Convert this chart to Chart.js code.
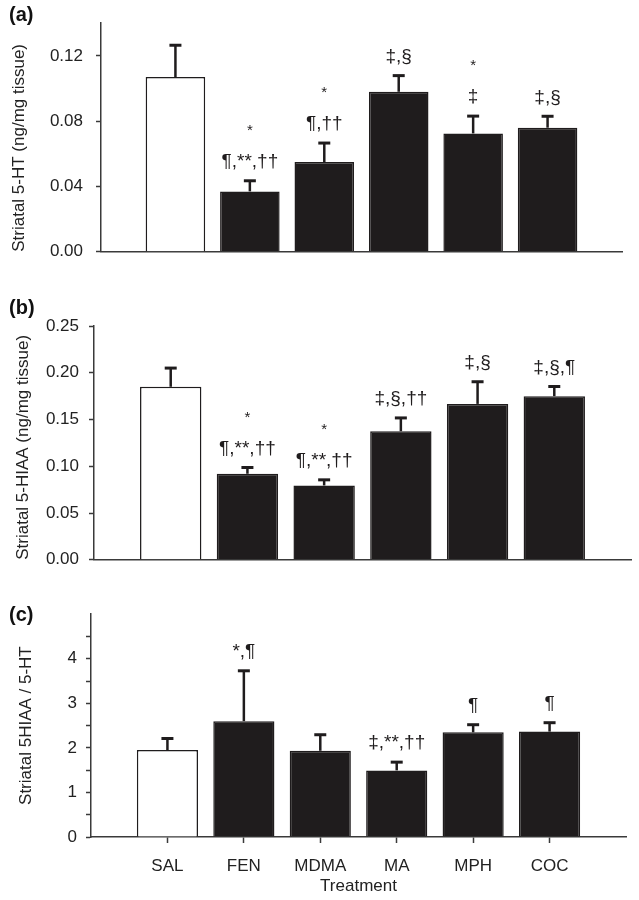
<!DOCTYPE html>
<html>
<head>
<meta charset="utf-8">
<script src="https://cdn.jsdelivr.net/npm/chart.js@4.4.1/dist/chart.umd.min.js"></script>
<style>
  body { margin: 0; background: #fff; }
  #wrap { position: relative; width: 639px; height: 900px; overflow: hidden; }
  canvas { position: absolute; left: 0; }
</style>
</head>
<body>
<div id="wrap">
  <canvas id="chart-a" width="639" height="275" style="top:0px"></canvas>
  <canvas id="chart-b" width="639" height="290" style="top:290px"></canvas>
  <canvas id="chart-c" width="639" height="305" style="top:595px"></canvas>
</div>
<script>
const categories = ["SAL", "FEN", "MDMA", "MA", "MPH", "COC"]

// (a) striatal 5-HT, ng/mg tissue
const serotoninMean = [0.107, 0.037, 0.055, 0.098, 0.0725, 0.076]
const serotoninSem = [0.0195, 0.0065, 0.0116, 0.0099, 0.0106, 0.0070]
const serotoninMarks = ["", "¶,**,††", "¶,††", "‡,§", "‡", "‡,§"]
const serotoninStars = ["", "*", "*", "", "*", ""]
const serotoninTicks = [0, 0.04, 0.08, 0.12]

// (b) striatal 5-HIAA, ng/mg tissue
const hiaaMean = [0.185, 0.092, 0.0795, 0.1375, 0.1667, 0.175]
const hiaaSem = [0.020, 0.0067, 0.0060, 0.0142, 0.0237, 0.0103]
const hiaaMarks = ["", "¶,**,††", "¶,**,††", "‡,§,††", "‡,§", "‡,§,¶"]
const hiaaStars = ["", "*", "*", "", "", ""]
const hiaaTicks = [0, 0.05, 0.10, 0.15, 0.20, 0.25]

// (c) 5-HIAA / 5-HT ratio
const ratioMean = [1.95, 2.60, 1.935, 1.495, 2.35, 2.365]
const ratioSem = [0.26, 1.13, 0.36, 0.185, 0.17, 0.20]
const ratioMarks = ["", "*,¶", "", "‡,**,††", "¶", "¶"]
const ratioStars = ["", "", "", "", "", ""]
const ratioTicks = [0, 0.5, 1, 1.5, 2, 2.5, 3, 3.5, 4, 4.5]

Chart.defaults.font.family = "'Liberation Sans', Arial, Helvetica, sans-serif"
Chart.defaults.color = "#222"

const INK = "#1f1c1d"
const AXIS = "#3a3a3a"

// error bars (upper only) plus the significance marks above them
const errorBars = {
  id: "errorBars",
  afterDatasetsDraw(chart, args, opts) {
    const ctx = chart.ctx
    const y = chart.scales.y
    const values = chart.data.datasets[0].data
    ctx.save()
    chart.getDatasetMeta(0).data.forEach((bar, i) => {
      const v = values[i]
      if (v == null) return
      const k = i - 1
      const top = y.getPixelForValue(v + opts.sem[k])
      ctx.strokeStyle = INK
      ctx.lineWidth = 2.5
      ctx.beginPath()
      ctx.moveTo(bar.x, bar.y)
      ctx.lineTo(bar.x, top)
      ctx.stroke()
      ctx.lineWidth = 3
      ctx.beginPath()
      ctx.moveTo(bar.x - 6, top)
      ctx.lineTo(bar.x + 6, top)
      ctx.stroke()

      ctx.fillStyle = INK
      ctx.textAlign = "center"
      ctx.textBaseline = "middle"
      if (opts.marks[k]) {
        ctx.font = "19px 'Liberation Sans', Arial, sans-serif"
        ctx.fillText(opts.marks[k], bar.x, top - 19)
      }
      if (opts.stars[k]) {
        ctx.font = "15px 'Liberation Sans', Arial, sans-serif"
        ctx.fillText(opts.stars[k], bar.x, top - 50)
      }
    })
    ctx.restore()
  },
}

const panelLabel = {
  id: "panelLabel",
  afterDraw(chart, args, opts) {
    const ctx = chart.ctx
    ctx.save()
    ctx.font = "bold 20px 'Liberation Sans', Arial, sans-serif"
    ctx.fillStyle = "#111"
    ctx.textAlign = "left"
    ctx.textBaseline = "middle"
    ctx.fillText(opts.text, 9, opts.y)
    ctx.restore()
  },
}

function makePanel(id, p) {
  const labels = ["", ...categories, ""]
  const data = [null, ...p.mean, null]
  const colors = [null, "#ffffff", INK, INK, INK, INK, INK, null]
  new Chart(document.getElementById(id), {
    type: "bar",
    data: {
      labels: labels,
      datasets: [
        {
          data: data,
          backgroundColor: colors,
          borderColor: INK,
          borderWidth: 1.5,
          barPercentage: 0.8,
          categoryPercentage: 1,
        },
      ],
    },
    options: {
      responsive: false,
      animation: false,
      layout: {
        padding: { top: p.padTop, right: p.padRight, left: 0, bottom: 0 },
      },
      plugins: {
        legend: { display: false },
        tooltip: { enabled: false },
        errorBars: { sem: p.sem, marks: p.marks, stars: p.stars },
        panelLabel: { text: p.label, y: p.labelY },
      },
      scales: {
        x: {
          offset: false,
          grid: {
            offset: false,
            drawOnChartArea: false,
            drawTicks: p.showX,
            tickLength: 6,
            tickWidth: 1.5,
            tickColor: (c) => (c.index === 0 || c.index === labels.length - 1 ? "rgba(0,0,0,0)" : AXIS),
          },
          border: { color: AXIS, width: 1.5 },
          ticks: {
            display: p.showX,
            autoSkip: false,
            maxRotation: 0,
            padding: 13,
            font: { size: 17 },
          },
          title: {
            display: p.showX,
            text: "Treatment",
            font: { size: 17 },
            padding: { top: 0, bottom: 3 },
          },
          afterFit: (scale) => {
            scale.height = p.xHeight
          },
        },
        y: {
          min: 0,
          max: p.max,
          afterBuildTicks: (scale) => {
            scale.ticks = p.ticks.map((v) => ({ value: v }))
          },
          grid: {
            drawOnChartArea: false,
            tickLength: 5,
            tickWidth: 1.5,
            tickColor: AXIS,
          },
          border: { color: AXIS, width: 1.5 },
          ticks: {
            padding: p.tickPad,
            font: { size: 17 },
            callback: p.fmt,
          },
          title: {
            display: true,
            text: p.title,
            align: p.titleAlign,
            font: { size: 17 },
            padding: { top: p.titlePad, bottom: 0 },
          },
          afterFit: (scale) => {
            scale.width = p.axisX
          },
        },
      },
    },
    plugins: [errorBars, panelLabel],
  })
}

makePanel("chart-a", {
  mean: serotoninMean, sem: serotoninSem, marks: serotoninMarks, stars: serotoninStars,
  ticks: serotoninTicks, max: 0.14, fmt: (v) => v.toFixed(2),
  title: "Striatal 5-HT (ng/mg tissue)", titleAlign: "start", titlePad: 9,
  label: "(a)", labelY: 15,
  axisX: 101, padTop: 23, padRight: 17, xHeight: 21, tickPad: 13, showX: false,
})

makePanel("chart-b", {
  mean: hiaaMean, sem: hiaaSem, marks: hiaaMarks, stars: hiaaStars,
  ticks: hiaaTicks, max: 0.25, fmt: (v) => v.toFixed(2),
  title: "Striatal 5-HIAA (ng/mg tissue)", titleAlign: "start", titlePad: 13,
  label: "(b)", labelY: 18,
  axisX: 94, padTop: 36, padRight: 8, xHeight: 19, tickPad: 10, showX: false,
})

makePanel("chart-c", {
  mean: ratioMean, sem: ratioSem, marks: ratioMarks, stars: ratioStars,
  ticks: ratioTicks, max: 5, fmt: (v) => (Number.isInteger(v) ? String(v) : ""),
  title: "Striatal 5HIAA / 5-HT", titleAlign: "center", titlePad: 16,
  label: "(c)", labelY: 20,
  axisX: 91, padTop: 15, padRight: 7, xHeight: 63, tickPad: 9, showX: true,
})
</script>
</body>
</html>
